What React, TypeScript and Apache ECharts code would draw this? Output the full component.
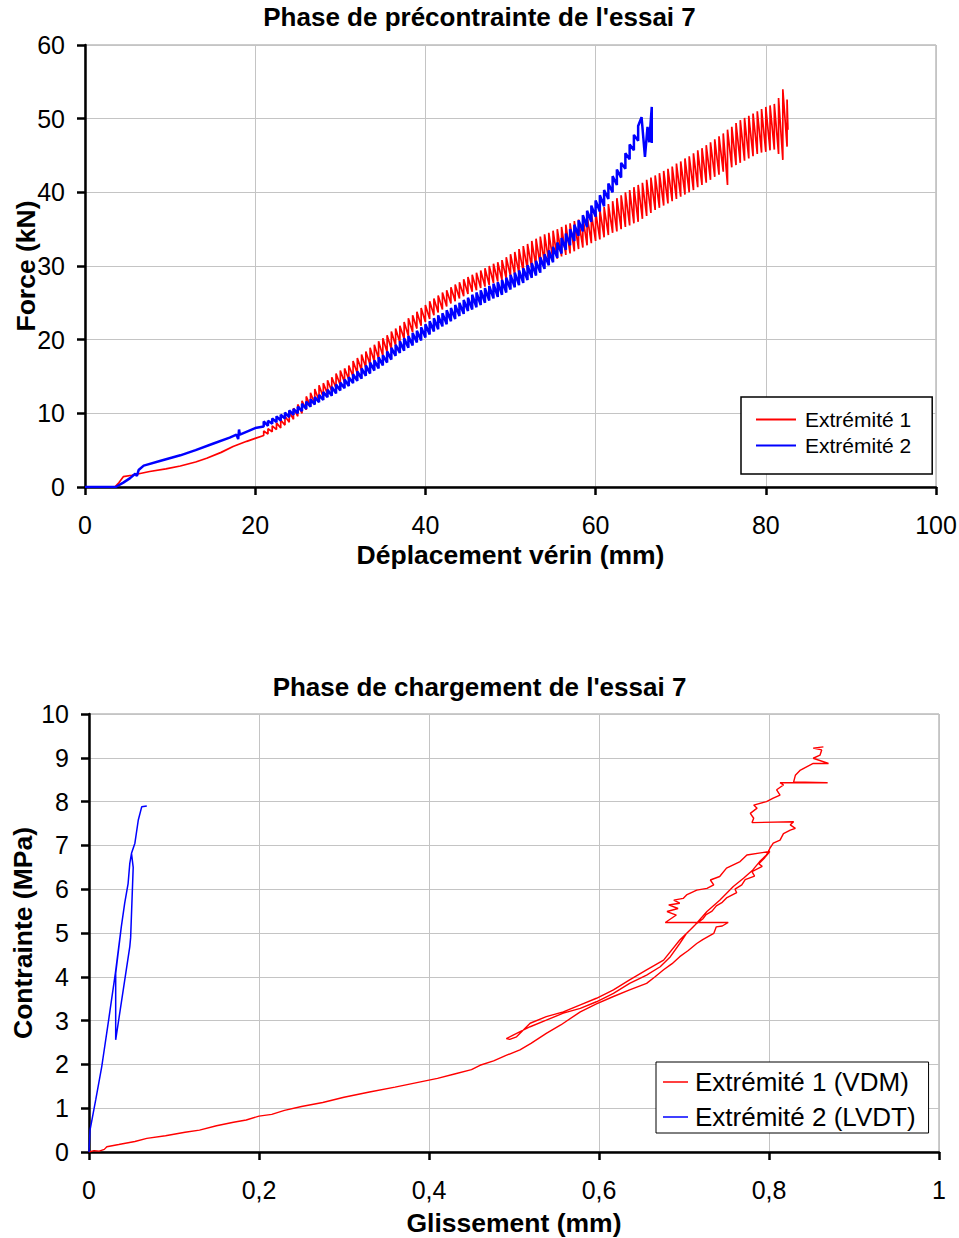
import React, { useEffect, useRef } from "react";
import * as echarts from "echarts";

const FONT = "'Liberation Sans', Arial, Helvetica, sans-serif";

// ---------- Top chart ----------
const topTitle = "Phase de précontrainte de l'essai 7";
const topXName = "Déplacement vérin (mm)";
const topYName = "Force (kN)";
const topNames = ["Extrémité 1", "Extrémité 2"];
const topXTicks = [0, 20, 40, 60, 80, 100];
const topYTicks = [0, 10, 20, 30, 40, 50, 60];

// Extrémité 1 – smooth start [x, y]
const top1Start = [
  [0, 0], [3.5, 0], [4.0, 0.6], [4.5, 1.4], [5.5, 1.6], [7.6, 2.1], [9.5, 2.45],
  [11.2, 2.85], [13.0, 3.4], [14.3, 3.9], [16.0, 4.7], [17.4, 5.5], [19.0, 6.2], [20.0, 6.6],
];
// Extrémité 1 – oscillating part [x, low, high]
const top1Teeth = [
  [21.0, 7.0, 7.6], [21.5, 7.2, 7.9], [22.0, 7.5, 8.3], [22.5, 7.8, 8.7], [23.0, 8.0, 9.1],
  [23.5, 8.4, 9.6], [24.0, 8.8, 10.2], [24.5, 9.2, 10.7], [25.0, 9.6, 11.2], [25.5, 10.0, 11.7],
  [26.0, 10.5, 12.3], [26.5, 10.9, 12.8], [27.0, 11.3, 13.3], [27.5, 11.7, 13.8], [28.0, 12.2, 14.1],
  [28.5, 12.6, 14.5], [29.0, 13.0, 14.9], [29.5, 13.4, 15.4], [30.0, 13.8, 15.8], [30.5, 14.2, 16.1],
  [31.0, 14.6, 16.5], [31.5, 15.0, 17.1], [32.0, 15.4, 17.5], [32.5, 15.8, 18.0], [33.0, 16.2, 18.4],
  [33.5, 16.6, 18.9], [34.0, 17.0, 19.3], [34.5, 17.4, 19.8], [35.0, 17.8, 20.2], [35.5, 18.3, 20.6],
  [36.0, 18.7, 21.1], [36.5, 19.2, 21.5], [37.0, 19.6, 21.9], [37.5, 20.1, 22.4], [38.0, 20.5, 22.9],
  [38.5, 21.0, 23.3], [39.0, 21.5, 23.8], [39.5, 21.9, 24.3], [40.0, 22.4, 24.7], [40.5, 22.8, 25.2],
  [41.0, 23.3, 25.6], [41.5, 23.7, 26.0], [42.0, 24.1, 26.4], [42.5, 24.5, 26.7], [43.0, 24.9, 27.1],
  [43.5, 25.2, 27.5], [44.0, 25.6, 27.8], [44.5, 25.9, 28.2], [45.0, 26.2, 28.5], [45.5, 26.5, 28.8],
  [46.0, 26.7, 29.1], [46.5, 27.0, 29.4], [47.0, 27.2, 29.7], [47.5, 27.4, 30.0], [48.0, 27.7, 30.3],
  [48.5, 27.9, 30.5], [49.0, 28.1, 30.8], [49.5, 28.3, 31.2], [50.0, 28.6, 31.6], [50.5, 28.8, 31.9],
  [51.0, 29.0, 32.3], [51.5, 29.2, 32.7], [52.0, 29.5, 33.0], [52.5, 29.7, 33.4], [53.0, 29.9, 33.7],
  [53.5, 30.1, 34.0], [54.0, 30.4, 34.3], [54.5, 30.6, 34.5], [55.0, 30.8, 34.8], [55.5, 31.0, 35.0],
  [56.0, 31.3, 35.3], [56.5, 31.5, 35.6], [57.0, 31.7, 35.8], [57.5, 32.0, 36.1], [58.0, 32.3, 36.3],
  [58.5, 32.5, 36.6], [59.0, 32.8, 36.8], [59.5, 33.1, 37.1], [60.0, 33.4, 37.4], [60.5, 33.6, 37.7],
  [61.0, 33.9, 38.0], [61.5, 34.2, 38.4], [62.0, 34.5, 38.8], [62.5, 34.7, 39.2], [63.0, 35.0, 39.6],
  [63.5, 35.3, 40.0], [64.0, 35.5, 40.3], [64.5, 35.8, 40.7], [65.0, 36.0, 41.0], [65.5, 36.4, 41.3],
  [66.0, 36.8, 41.7], [66.5, 37.2, 42.0], [67.0, 37.6, 42.3], [67.5, 37.9, 42.6], [68.0, 38.2, 42.9],
  [68.5, 38.5, 43.2], [69.0, 38.8, 43.5], [69.5, 39.1, 43.9], [70.0, 39.4, 44.2], [70.5, 39.7, 44.6],
  [71.0, 40.0, 44.9], [71.5, 40.3, 45.3], [72.0, 40.7, 45.7], [72.5, 41.0, 46.0], [73.0, 41.3, 46.4],
  [73.5, 41.7, 46.8], [74.0, 42.1, 47.2], [74.5, 42.4, 47.6], [75.0, 42.8, 48.0], [75.5, 41.0, 48.5],
  [76.0, 43.4, 48.9], [76.5, 43.7, 49.4], [77.0, 44.0, 49.8], [77.5, 44.3, 50.1], [78.0, 44.6, 50.4],
  [78.5, 44.9, 50.7], [79.0, 45.2, 51.0], [79.5, 45.4, 51.3], [80.0, 45.5, 51.6], [80.5, 45.7, 51.8],
  [81.0, 45.8, 52.0], [81.5, 45.2, 52.8], [82.0, 44.4, 54.0], [82.5, 46.2, 52.6],
];
const top1End = [[82.6, 48.5]];

// Extrémité 2 – smooth start [x, y]
const top2Start = [
  [0, 0], [3.6, 0], [4.5, 0.6], [5.3, 1.2], [5.9, 1.8], [6.1, 1.5], [6.3, 2.3], [6.9, 2.9],
  [9.0, 3.6], [11.2, 4.3], [13.0, 5.0], [15.1, 5.9], [17.0, 6.7], [17.8, 7.1], [18.0, 6.5],
  [18.1, 7.8], [18.2, 7.1], [20.0, 8.0],
];
// Extrémité 2 – oscillating part [x, low, high]
const top2Teeth = [
  [21.0, 8.2, 8.9], [21.5, 8.3, 9.0], [22.0, 8.6, 9.3], [22.5, 8.8, 9.6], [23.0, 9.0, 9.8],
  [23.5, 9.3, 10.1], [24.0, 9.5, 10.4], [24.5, 9.8, 10.6], [25.0, 10.0, 10.9], [25.5, 10.3, 11.3],
  [26.0, 10.6, 11.6], [26.5, 10.9, 11.9], [27.0, 11.2, 12.2], [27.5, 11.5, 12.5], [28.0, 11.8, 12.9],
  [28.5, 12.2, 13.2], [29.0, 12.4, 13.6], [29.5, 12.7, 13.9], [30.0, 13.1, 14.2], [30.5, 13.4, 14.6],
  [31.0, 13.7, 14.9], [31.5, 14.1, 15.3], [32.0, 14.4, 15.7], [32.5, 14.7, 16.1], [33.0, 15.1, 16.5],
  [33.5, 15.4, 16.9], [34.0, 15.8, 17.2], [34.5, 16.1, 17.6], [35.0, 16.5, 17.9], [35.5, 16.9, 18.4],
  [36.0, 17.3, 18.9], [36.5, 17.8, 19.3], [37.0, 18.2, 19.8], [37.5, 18.5, 20.2], [38.0, 18.9, 20.5],
  [38.5, 19.2, 20.9], [39.0, 19.6, 21.2], [39.5, 19.9, 21.7], [40.0, 20.3, 22.1], [40.5, 20.7, 22.5],
  [41.0, 21.1, 22.9], [41.5, 21.4, 23.3], [42.0, 21.8, 23.6], [42.5, 22.1, 24.0], [43.0, 22.5, 24.3],
  [43.5, 22.8, 24.7], [44.0, 23.2, 25.0], [44.5, 23.5, 25.4], [45.0, 23.9, 25.7], [45.5, 24.1, 26.1],
  [46.0, 24.4, 26.4], [46.5, 24.7, 26.7], [47.0, 25.0, 27.0], [47.5, 25.3, 27.3], [48.0, 25.6, 27.6],
  [48.5, 25.8, 27.8], [49.0, 26.1, 28.1], [49.5, 26.4, 28.4], [50.0, 26.8, 28.8], [50.5, 27.1, 29.1],
  [51.0, 27.4, 29.4], [51.5, 27.7, 29.7], [52.0, 28.1, 30.1], [52.5, 28.4, 30.4], [53.0, 28.7, 30.7],
  [53.5, 29.1, 31.2], [54.0, 29.6, 31.6], [54.5, 30.1, 32.1], [55.0, 30.5, 32.6], [55.5, 31.1, 33.2],
  [56.0, 31.7, 33.8], [56.5, 32.2, 34.4], [57.0, 32.8, 35.0], [57.5, 33.4, 35.6], [58.0, 34.1, 36.2],
  [58.5, 34.7, 36.9], [59.0, 35.3, 37.5], [59.5, 36.0, 38.2], [60.0, 36.7, 38.9], [60.5, 37.4, 39.6],
  [61.0, 38.1, 40.3], [61.5, 39.1, 41.2], [62.0, 40.0, 42.2], [62.5, 41.0, 43.1], [63.0, 42.0, 44.0],
  [63.5, 43.2, 45.3], [64.0, 44.5, 46.5], [64.5, 45.7, 47.8], [65.0, 47.0, 49.0],
];
const top2End = [[65.4, 50.2], [65.8, 44.8], [66.1, 48.9], [66.3, 46.8], [66.6, 51.6], [66.6, 46.7]];

// ---------- Bottom chart ----------
const botTitle = "Phase de chargement de l'essai 7";
const botXName = "Glissement (mm)";
const botYName = "Contrainte (MPa)";
const botNames = ["Extrémité 1 (VDM)", "Extrémité 2 (LVDT)"];
const botXTicks = [0, 0.2, 0.4, 0.6, 0.8, 1];
const botYTicks = [0, 1, 2, 3, 4, 5, 6, 7, 8, 9, 10];

const bot1Points = [
  [0, 0], [0.006, 0.03], [0.012, 0.02], [0.018, 0.06], [0.021, 0.12], [0.035, 0.17], [0.054, 0.24],
  [0.068, 0.31], [0.09, 0.37], [0.113, 0.45], [0.13, 0.5], [0.15, 0.6], [0.17, 0.68], [0.185, 0.73],
  [0.2, 0.82], [0.215, 0.86], [0.23, 0.95], [0.25, 1.04], [0.275, 1.13], [0.3, 1.25], [0.33, 1.37],
  [0.36, 1.48], [0.39, 1.6], [0.41, 1.68], [0.43, 1.78], [0.45, 1.88], [0.46, 1.98], [0.476, 2.08],
  [0.49, 2.2], [0.507, 2.33], [0.52, 2.48], [0.538, 2.71], [0.555, 2.9], [0.578, 3.2], [0.597, 3.38],
  [0.617, 3.55], [0.636, 3.7], [0.656, 3.85], [0.666, 4.0], [0.676, 4.16], [0.686, 4.3], [0.695, 4.46],
  [0.705, 4.6], [0.715, 4.76], [0.722, 4.85], [0.735, 4.99], [0.738, 5.14], [0.745, 5.16], [0.752, 5.24],
  [0.678, 5.24],
  [0.691, 5.41], [0.68, 5.49], [0.693, 5.56], [0.682, 5.64], [0.695, 5.68], [0.688, 5.75], [0.699, 5.79],
  [0.703, 5.87], [0.715, 5.98], [0.727, 6.02], [0.735, 6.1], [0.731, 6.21], [0.742, 6.29], [0.75, 6.48],
  [0.766, 6.63], [0.774, 6.78], [0.79, 6.83], [0.801, 6.86],
  [0.795, 6.72], [0.788, 6.58], [0.792, 6.52], [0.78, 6.4], [0.783, 6.3], [0.772, 6.22], [0.768, 6.1],
  [0.76, 6.0], [0.762, 5.92], [0.75, 5.8], [0.745, 5.7], [0.738, 5.62], [0.733, 5.5], [0.726, 5.42],
  [0.722, 5.32], [0.715, 5.22],
  [0.703, 4.99], [0.695, 4.76], [0.684, 4.46], [0.672, 4.23], [0.656, 4.04], [0.636, 3.85], [0.617, 3.62],
  [0.597, 3.43], [0.578, 3.28], [0.558, 3.17], [0.538, 3.01], [0.519, 2.86], [0.499, 2.67], [0.491, 2.59],
  [0.495, 2.57],
  [0.503, 2.63], [0.519, 2.94], [0.538, 3.09], [0.558, 3.2], [0.578, 3.36], [0.597, 3.51], [0.617, 3.7],
  [0.636, 3.93], [0.656, 4.16], [0.676, 4.38], [0.695, 4.84], [0.711, 5.14], [0.727, 5.49], [0.742, 5.75],
  [0.758, 6.06], [0.77, 6.25], [0.781, 6.44], [0.789, 6.63], [0.797, 6.78], [0.801, 6.93],
  [0.805, 7.05], [0.813, 7.12], [0.817, 7.27], [0.825, 7.35], [0.831, 7.39], [0.825, 7.47], [0.829, 7.54],
  [0.78, 7.52], [0.782, 7.62], [0.778, 7.73], [0.786, 7.85], [0.782, 7.92], [0.797, 8.0], [0.805, 8.08],
  [0.813, 8.15], [0.809, 8.27], [0.817, 8.38], [0.813, 8.43], [0.869, 8.43], [0.829, 8.45], [0.831, 8.6],
  [0.837, 8.72], [0.852, 8.87], [0.87, 8.87], [0.852, 8.99], [0.86, 9.06], [0.862, 9.18], [0.852, 9.22],
  [0.864, 9.25],
];

const bot2Points = [
  [0, 0], [0.0012, 0.5], [0.008, 1.2], [0.015, 1.95], [0.023, 3.0], [0.031, 4.08], [0.038, 5.14],
  [0.042, 5.68], [0.046, 6.13], [0.048, 6.59], [0.05, 6.82], [0.052, 6.5], [0.049, 4.9], [0.048, 4.69],
  [0.0314, 2.56], [0.0314, 4.08], [0.038, 5.14], [0.042, 5.68], [0.046, 6.13], [0.048, 6.59],
  [0.05, 6.82], [0.054, 7.05], [0.058, 7.58], [0.062, 7.88], [0.068, 7.9],
];

const RED = "#ff0000";
const BLUE = "#0000ff";

const zig = (teeth: number[][]) => teeth.flatMap(([x, lo, hi]) => [[x, lo], [x, hi]]);

function axisBase(ticks: number[], fmt?: (v: number) => string) {
  return {
    type: "value" as const,
    min: ticks[0],
    max: ticks[ticks.length - 1],
    interval: ticks[1] - ticks[0],
    axisLine: { show: true, onZero: false, lineStyle: { color: "#000", width: 2.5 } },
    axisTick: { show: true, length: 8, lineStyle: { color: "#000", width: 2.5 } },
    splitLine: { show: true, lineStyle: { color: "#c4c4c4", width: 1 } },
    axisLabel: {
      color: "#000",
      fontSize: 25,
      fontFamily: FONT,
      formatter: fmt,
    },
    nameTextStyle: { color: "#000", fontSize: 26.5, fontWeight: "bold" as const, fontFamily: FONT },
    nameLocation: "middle" as const,
    nameMoveOverlap: false,
  };
}

const commaFmt = (v: number) => String(Math.round(v * 10) / 10).replace(".", ",");

export default function App() {
  const ref = useRef<HTMLDivElement>(null);
  useEffect(() => {
    if (!ref.current) return;
    const chart = echarts.init(ref.current, undefined, { renderer: "svg" });
    const topX = axisBase(topXTicks);
    const topY = axisBase(topYTicks);
    const botX = axisBase(botXTicks, commaFmt);
    const botY = axisBase(botYTicks);
    chart.setOption({
      animation: false,
      backgroundColor: "#fff",
      textStyle: { fontFamily: FONT },
      title: [
        {
          text: topTitle,
          left: "center",
          top: 4,
          padding: 0,
          textStyle: { fontSize: 26, fontWeight: "bold", color: "#000", fontFamily: FONT },
        },
        {
          text: botTitle,
          left: "center",
          top: 674,
          padding: 0,
          textStyle: { fontSize: 26, fontWeight: "bold", color: "#000", fontFamily: FONT },
        },
      ],
      grid: [
        {
          left: 85, top: 45, width: 851, height: 442, show: true, borderColor: "#999", borderWidth: 1,
          containLabel: false, outerBoundsMode: "none",
        },
        {
          left: 89, top: 714, width: 850, height: 438, show: true, borderColor: "#999", borderWidth: 1,
          containLabel: false, outerBoundsMode: "none",
        },
      ],
      xAxis: [
        { ...topX, gridIndex: 0, name: topXName, nameGap: 54, axisLabel: { ...topX.axisLabel, margin: 25 } },
        { ...botX, gridIndex: 1, name: botXName, nameGap: 57, axisLabel: { ...botX.axisLabel, margin: 25 } },
      ],
      yAxis: [
        { ...topY, gridIndex: 0, name: topYName, nameGap: 46, axisLabel: { ...topY.axisLabel, margin: 20 } },
        { ...botY, gridIndex: 1, name: botYName, nameGap: 53, axisLabel: { ...botY.axisLabel, margin: 20 } },
      ],
      legend: [
        {
          data: topNames,
          orient: "vertical",
          left: 741,
          top: 397,
          padding: [12, 21, 18, 15],
          itemGap: 5,
          itemWidth: 40,
          itemHeight: 2,
          icon: "rect",
          backgroundColor: "#fff",
          borderColor: "#000",
          borderWidth: 1.5,
          textStyle: { color: "#000", fontSize: 21, lineHeight: 20, fontFamily: FONT, padding: [0, 0, 0, 4] },
        },
        {
          data: botNames,
          orient: "vertical",
          left: 656,
          top: 1062,
          padding: [5, 13, 1, 7],
          itemGap: 5,
          itemWidth: 25,
          itemHeight: 1.5,
          icon: "rect",
          backgroundColor: "#fff",
          borderColor: "#000",
          borderWidth: 1,
          textStyle: { color: "#000", fontSize: 26, lineHeight: 30, fontFamily: FONT, padding: [0, 0, 0, 2] },
        },
      ],
      series: [
        {
          name: topNames[0],
          type: "line",
          xAxisIndex: 0,
          yAxisIndex: 0,
          symbol: "none",
          showSymbol: false,
          color: RED,
          lineStyle: { color: RED, width: 1.7 },
          data: [...top1Start, ...zig(top1Teeth), ...top1End],
        },
        {
          name: topNames[1],
          type: "line",
          xAxisIndex: 0,
          yAxisIndex: 0,
          symbol: "none",
          showSymbol: false,
          color: BLUE,
          lineStyle: { color: BLUE, width: 2.5 },
          data: [...top2Start, ...zig(top2Teeth), ...top2End],
        },
        {
          name: botNames[0],
          type: "line",
          xAxisIndex: 1,
          yAxisIndex: 1,
          symbol: "none",
          showSymbol: false,
          color: RED,
          lineStyle: { color: RED, width: 1.4 },
          data: bot1Points,
        },
        {
          name: botNames[1],
          type: "line",
          xAxisIndex: 1,
          yAxisIndex: 1,
          symbol: "none",
          showSymbol: false,
          color: BLUE,
          lineStyle: { color: BLUE, width: 1.5 },
          data: bot2Points,
        },
      ],
    });
    return () => chart.dispose();
  }, []);
  return (
    <div
      ref={ref}
      style={{ position: "absolute", left: 0, top: 0, width: 959, height: 1238, background: "#fff" }}
    />
  );
}
